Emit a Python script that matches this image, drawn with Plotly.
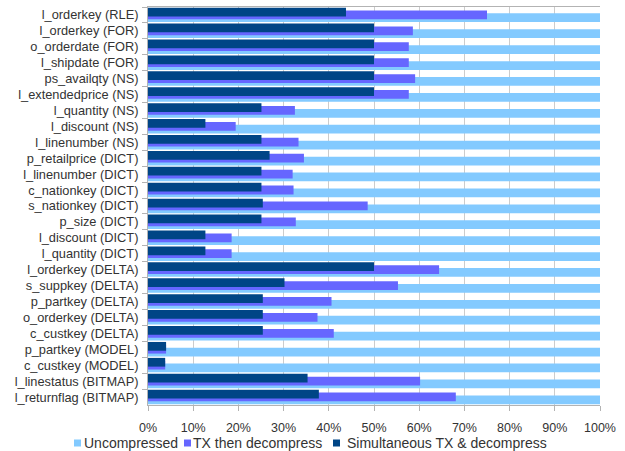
import plotly.graph_objects as go

categories = [
    "l_orderkey (RLE)", "l_orderkey (FOR)", "o_orderdate (FOR)", "l_shipdate (FOR)",
    "ps_availqty (NS)", "l_extendedprice (NS)", "l_quantity (NS)", "l_discount (NS)",
    "l_linenumber (NS)", "p_retailprice (DICT)", "l_linenumber (DICT)", "c_nationkey (DICT)",
    "s_nationkey (DICT)", "p_size (DICT)", "l_discount (DICT)", "l_quantity (DICT)",
    "l_orderkey (DELTA)", "s_suppkey (DELTA)", "p_partkey (DELTA)", "o_orderkey (DELTA)",
    "c_custkey (DELTA)", "p_partkey (MODEL)", "c_custkey (MODEL)", "l_linestatus (BITMAP)",
    "l_returnflag (BITMAP)",
]
uncompressed = [100] * 25
tx_then_decompress = [75.0, 58.6, 57.7, 57.7, 59.1, 57.7, 32.5, 19.4, 33.3, 34.5, 32.0, 32.2,
                      48.6, 32.7, 18.5, 18.5, 64.4, 55.3, 40.6, 37.5, 41.1, 4.0, 3.8, 60.2, 68.1]
simultaneous = [43.8, 50.0, 50.0, 50.0, 50.0, 50.0, 25.1, 12.7, 25.1, 26.9, 25.1, 25.1,
                25.4, 25.1, 12.7, 12.7, 50.0, 30.2, 25.4, 25.4, 25.4, 4.0, 3.8, 35.3, 37.8]
series_names = ["Uncompressed", "TX then decompress", "Simultaneous TX & decompress"]
series_colors = ["#83CAFF", "#6666FF", "#004586"]

W = 0.55
offsets = [-0.10, -0.28, -0.46]
fig = go.Figure()
for vals, name, col, off in zip([uncompressed, tx_then_decompress, simultaneous],
                                series_names, series_colors, offsets):
    fig.add_trace(go.Bar(y=categories, x=vals, orientation="h", name=name,
                         marker=dict(color=col, line=dict(width=0)), width=W, offset=off,
                         showlegend=False))

# custom legend (plot area: x 148..600 px, y 7..405 px)
L, R, T, B = 148, 600, 7, 405
def px_x(p):
    return (p - L) / (R - L)
def px_y(p):
    return (B - p) / (B - T)

legend_sq_x = [74, 184, 333]
legend_txt_x = [82, 191, 345]
ly = 443
for sx, tx, name, col in zip(legend_sq_x, legend_txt_x, series_names, series_colors):
    fig.add_shape(type="rect", xref="paper", yref="paper",
                  x0=px_x(sx), x1=px_x(sx + 7), y0=px_y(ly + 3.5), y1=px_y(ly - 3.5),
                  fillcolor=col, line=dict(width=0))
    fig.add_annotation(text=name, xref="paper", yref="paper", x=px_x(tx), y=px_y(ly),
                       xanchor="left", yanchor="middle", showarrow=False,
                       font=dict(size=14, color="#333333"))

fig.update_layout(
    width=625, height=451,
    margin=dict(l=L, r=625 - R, t=T, b=451 - B),
    paper_bgcolor="white", plot_bgcolor="white",
    barmode="overlay",
    font=dict(family="Liberation Sans, Arial, sans-serif", size=12, color="#333333"),
    showlegend=False,
)
fig.update_xaxes(range=[0, 100], dtick=10, ticksuffix="%", showgrid=True, gridcolor="#cccccc",
                 gridwidth=1, showline=True, linecolor="#b3b3b3", mirror=True, ticks="outside",
                 ticklen=5, tickcolor="#b3b3b3", zeroline=False, tickfont=dict(size=12.5),
                 automargin=False, ticklabelstandoff=6)
fig.update_yaxes(categoryorder="array", categoryarray=categories, autorange="reversed",
                 showline=True, linecolor="#b3b3b3", ticks="outside", ticklen=5,
                 tickcolor="#b3b3b3", tickson="boundaries", showgrid=False,
                 tickfont=dict(size=12.8), ticklabelstandoff=6, automargin=False)

fig.write_html("out.html", config={"displayModeBar": False},
               post_script="document.body.style.margin='0';document.body.style.overflow='hidden';")
